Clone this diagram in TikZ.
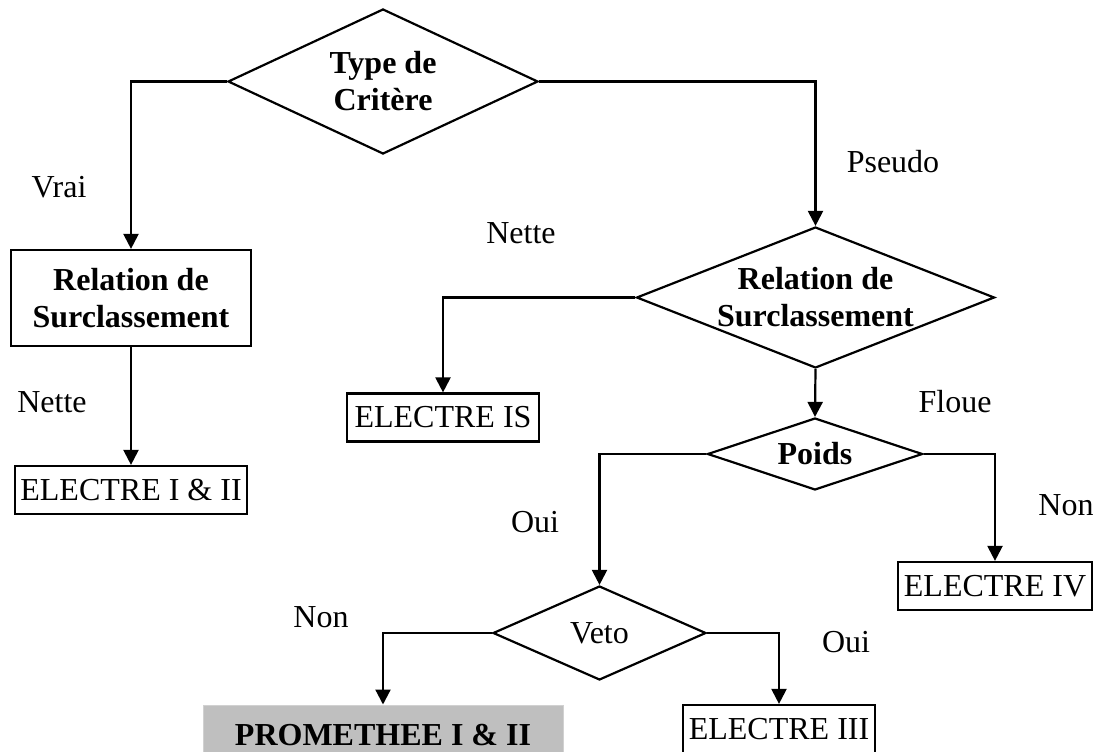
\documentclass[tikz,border=0pt]{standalone}
\usepackage{fontspec}
\setmainfont{Liberation Serif}
\usetikzlibrary{shapes.geometric,arrows.meta}

\begin{document}
\begin{tikzpicture}[x=1pt,y=-1pt,
  every node/.style={font=\fontsize{32}{37}\selectfont},
  decision/.style={diamond,draw,line width=2.2pt,inner sep=0pt,
    minimum width=#1},
  box/.style={rectangle,draw,line width=2.2pt,inner sep=0pt},
  result/.style={box,minimum height=48pt},
  bold/.style={font=\fontsize{32}{37}\selectfont\bfseries,align=center},
  lbl/.style={anchor=base},
  flow/.style={line width=2.2pt,-{Triangle[length=15pt,width=15pt]}}
]
\useasboundingbox (0,0) rectangle (1101,752);

% decision diamonds
\node[decision=310pt,minimum height=145pt] (type)  at (383,81.5) {};
\node[decision=358pt,minimum height=141pt] (rel2)  at (815.5,297.5) {};
\node[decision=215pt,minimum height=72pt]  (poids) at (815,454) {};
\node[decision=213pt,minimum height=94pt]  (veto)  at (599.5,633) {};

\node[bold] (typeT)  at (type.center)  {Type de\\Critère};
\node[bold] (rel2T)  at (rel2.center)  {Relation de\\Surclassement};
\node[bold] (poidsT) at (poids.center) {Poids};
\node (vetoT) at (veto.center) {Veto};

% boxes
\node[box,bold,minimum width=240pt,minimum height=96pt] (rel1) at (131,298) {Relation de\\Surclassement};
\node[result,minimum width=232pt] (e12) at (131,490)   {ELECTRE I \& II};
\node[result,minimum width=192pt] (eis) at (443,417.5) {ELECTRE IS};
\node[result,minimum width=194pt] (e4)  at (995,586)   {ELECTRE IV};
\node[result,minimum width=192pt] (e3)  at (779,729)   {ELECTRE III};
\node[rectangle,fill=black!25,draw=black!18,line width=1pt,
      minimum width=360pt,minimum height=60pt,bold] (prom) at (383,735) {PROMETHEE I \& II};

% connectors
\draw[flow] (type.west) -| (rel1.north);
\draw[flow] (type.east) -| (rel2.north);
\draw[flow] (rel1.south) -- (e12.north);
\draw[flow] (rel2.west) -| (eis.north);
\draw[flow] (rel2.south) -- (poids.north);
\draw[flow] (poids.west) -| (veto.north);
\draw[flow] (poids.east) -| (e4.north);
\draw[flow] (veto.west) -| (prom.north);
\draw[flow] (veto.east) -| (e3.north);

% branch labels
\node[lbl] (lVrai)   at (59,197)   {Vrai};
\node[lbl] (lPseudo) at (893,172)  {Pseudo};
\node[lbl] (lNette1) at (521,243)  {Nette};
\node[lbl] (lNette2) at (52,412)   {Nette};
\node[lbl] (lFloue)  at (955,412)  {Floue};
\node[lbl] (lOui1)   at (535,532)  {Oui};
\node[lbl] (lNon1)   at (1066,515) {Non};
\node[lbl] (lNon2)   at (321,627)  {Non};
\node[lbl] (lOui2)   at (846,652)  {Oui};
\end{tikzpicture}
\end{document}
